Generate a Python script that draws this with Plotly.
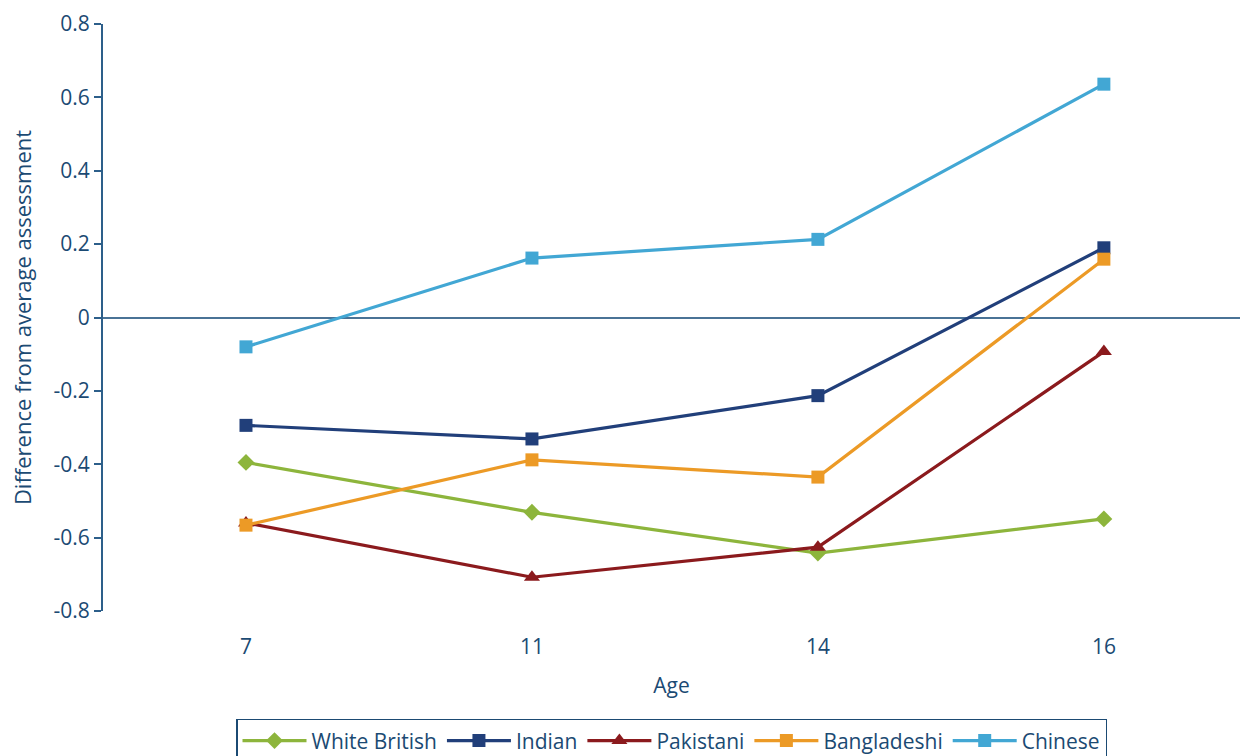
import plotly.graph_objects as go

ages = ["7", "11", "14", "16"]
white_british = [-0.395, -0.531, -0.642, -0.549]
indian = [-0.294, -0.331, -0.213, 0.190]
pakistani = [-0.560, -0.708, -0.626, -0.093]
bangladeshi = [-0.566, -0.388, -0.435, 0.159]
chinese = [-0.080, 0.162, 0.213, 0.636]

y_tick_vals = [-0.8, -0.6, -0.4, -0.2, 0, 0.2, 0.4, 0.6, 0.8]
y_tick_text = ["-0.8", "-0.6", "-0.4", "-0.2", "0", "0.2", "0.4", "0.6", "0.8"]

series = [
    ("White British", white_british, "#8db53c", "diamond", 13),
    ("Indian", indian, "#213f7a", "square", 13),
    ("Pakistani", pakistani, "#8b1a1d", "triangle-up", 14),
    ("Bangladeshi", bangladeshi, "#ec9a26", "square", 13),
    ("Chinese", chinese, "#42a7d4", "square", 13),
]

text_color = "#1b4a73"
fig = go.Figure()
for name, vals, color, sym, size in series:
    fig.add_trace(go.Scatter(
        x=ages, y=vals, name=name, mode="lines+markers",
        line=dict(color=color, width=3.2),
        marker=dict(symbol=sym, size=size, color=color),
    ))

fig.update_layout(
    width=1240, height=756,
    margin=dict(l=103, r=0, t=24, b=145, autoexpand=False),
    paper_bgcolor="white", plot_bgcolor="white",
    font=dict(family="Open Sans, Lato, sans-serif", color=text_color, size=21),
    showlegend=True,
    legend=dict(
        orientation="h", x=0.5, xanchor="center",
        yref="container", y=0.049, yanchor="top",
        bordercolor=text_color, borderwidth=1.5,
        font=dict(size=21, color=text_color),
        itemwidth=64, tracegroupgap=0,
    ),
    xaxis=dict(
        type="category", range=[-0.5, 3.476],
        showline=False, showgrid=False, zeroline=False,
        ticks="outside", ticklen=17, tickcolor="rgba(0,0,0,0)",
        tickfont=dict(size=21),
        title=dict(text="Age", font=dict(size=21), standoff=19),
    ),
    yaxis=dict(
        range=[-0.8, 0.8], tickvals=y_tick_vals, ticktext=y_tick_text,
        showline=True, linecolor="#2d5f8a", linewidth=2,
        ticks="outside", ticklen=7, tickcolor="#2d5f8a", tickwidth=1.5,
        showgrid=False, zeroline=True, zerolinecolor="#4a7396", zerolinewidth=1.5,
        tickfont=dict(size=21),
        title=dict(text="Difference from average assessment", font=dict(size=22), standoff=16),
    ),
)

fig.write_html(
    "out.html",
    config={"displayModeBar": False},
    post_script="document.body.style.margin='0';",
)
